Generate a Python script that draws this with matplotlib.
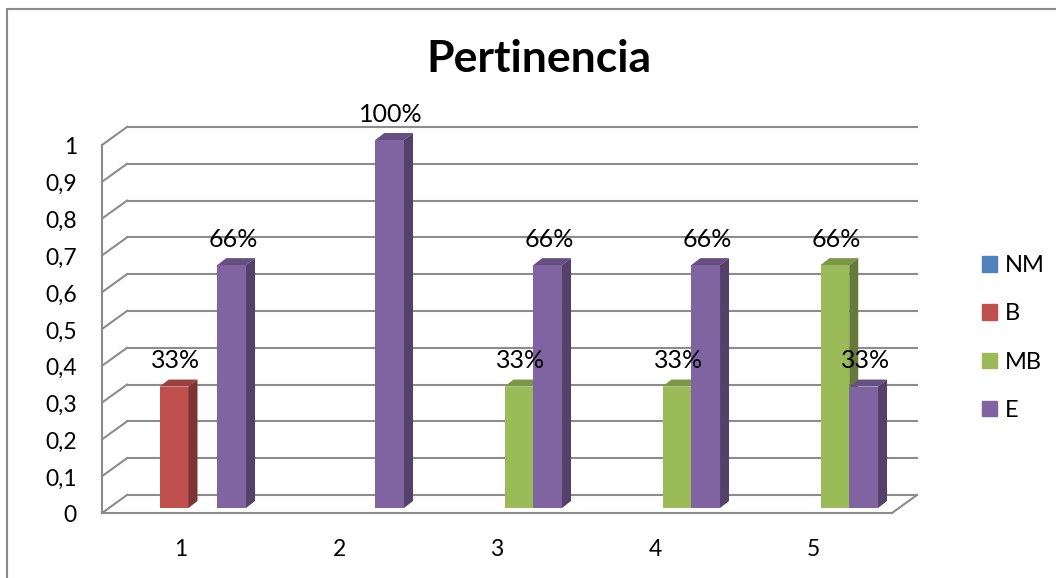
import numpy as np
import matplotlib
matplotlib.use('Agg')
import matplotlib.pyplot as plt
from matplotlib import transforms as mtransforms
from matplotlib.patches import Polygon, Patch, Rectangle

# data
categories = ['1', '2', '3', '4', '5']
series = ['NM', 'B', 'MB', 'E']
nm = [0, 0, 0, 0, 0]
b = [0.33, 0, 0, 0, 0]
mb = [0, 0, 0.33, 0.33, 0.66]
e = [0.66, 1, 0.66, 0.66, 0.33]
values = [nm, b, mb, e]
colors = ['#4F81BD', '#C0504D', '#9BBB59', '#8064A2']
yticks = [0, 0.1, 0.2, 0.3, 0.4, 0.5, 0.6, 0.7, 0.8, 0.9, 1]
ytick_labels = ['0', '0,1', '0,2', '0,3', '0,4', '0,5', '0,6', '0,7', '0,8', '0,9', '1']

plt.rcParams['font.family'] = ['Lato', 'DejaVu Sans']

W, H = 1056, 578
fig = plt.figure(figsize=(W / 100, H / 100), dpi=100)
ax = fig.add_axes([102 / W, (H - 513) / H, 790 / W, 368 / H])
ax.set_xlim(0.5, 5.5)
ax.set_ylim(0, 1)
ax.axis('off')

grid_c = '#8c8c8c'
ident = mtransforms.IdentityTransform()
front = ax.transData
back = mtransforms.offset_copy(ax.transData, fig=fig, x=25, y=18, units='dots')
bar_t = mtransforms.offset_copy(ax.transData, fig=fig, x=7.5, y=5, units='dots')
depth = np.array([9, 7])


def seg(p, q, **kw):
    ax.plot([p[0], q[0]], [p[1], q[1]], transform=ident, clip_on=False, **kw)


# back wall gridlines + left wall diagonals
for v in yticks:
    ax.plot([0.5, 5.5], [v, v], transform=back, color=grid_c, lw=1.5, clip_on=False, zorder=1)
    seg(front.transform((0.5, v)), back.transform((0.5, v)), color=grid_c, lw=1.5, zorder=1)
# floor right edge
seg(front.transform((5.5, 0)), back.transform((5.5, 0)), color=grid_c, lw=1.5, zorder=1)

# bars
x = np.arange(1, len(categories) + 1)
w = 0.182
z = 3
for i in range(len(categories)):
    for k in range(len(series)):
        h = values[k][i]
        if h == 0:
            continue
        c = np.array(matplotlib.colors.to_rgb(colors[k]))
        x0 = x[i] + (k - 2) * w
        x1 = x0 + w
        ax.bar(x0, h, w, align='edge', color=colors[k], transform=bar_t, clip_on=False, zorder=z)
        ftl = bar_t.transform((x0, h))
        ftr = bar_t.transform((x1, h))
        fbr = bar_t.transform((x1, 0))
        top = Polygon([ftl, ftr, ftr + depth, ftl + depth], closed=True, transform=ident,
                      facecolor=c * 0.8, edgecolor='none', clip_on=False, zorder=z)
        side = Polygon([fbr, ftr, ftr + depth, fbr + depth], closed=True, transform=ident,
                       facecolor=c * 0.65, edgecolor='none', clip_on=False, zorder=z)
        ax.add_patch(top)
        ax.add_patch(side)
        z += 1
        lab_t = mtransforms.offset_copy(ax.transData, fig=fig, x=9, y=31, units='dots')
        ax.text(x0 + w / 2, h, f'{int(round(h * 100))}%', transform=lab_t, ha='center',
                va='center', fontsize=18, zorder=20, clip_on=False)

# front axis line and floor front edge
ax.plot([0.5, 0.5], [0, 1], color=grid_c, lw=1.5, clip_on=False, zorder=10)
ax.plot([0.5, 5.5], [0, 0], color=grid_c, lw=1.5, clip_on=False, zorder=10)

# tick labels
yl_t = mtransforms.offset_copy(ax.transData, fig=fig, x=-25, y=-3, units='dots')
for v, s in zip(yticks, ytick_labels):
    ax.text(0.5, v, s, transform=yl_t, ha='right', va='center', fontsize=16.5, clip_on=False)
xl_t = mtransforms.offset_copy(ax.transData, fig=fig, x=0, y=-36, units='dots')
for xi, s in zip(x, categories):
    ax.text(xi, 0, s, transform=xl_t, ha='center', va='center', fontsize=16.5, clip_on=False)

fig.text(539 / W, 1 - 59 / H, 'Pertinencia', fontsize=32, fontweight='bold', ha='center', va='center')

handles = [Patch(color=c, label=s) for c, s in zip(colors, series)]
fig.legend(handles=handles, loc='center left', bbox_to_anchor=(982 / W, 1 - 338 / H),
           frameon=False, fontsize=17, handlelength=0.62, handleheight=0.62,
           handletextpad=0.35, labelspacing=1.15, borderpad=0, borderaxespad=0)

# chart area border
fig.add_artist(Rectangle((7 / W, -0.1), 1.2, 1.1 - 9 / H, transform=fig.transFigure,
                         fill=False, edgecolor='#8a8a8a', lw=1.5))

fig.savefig('out.png', dpi=100)
